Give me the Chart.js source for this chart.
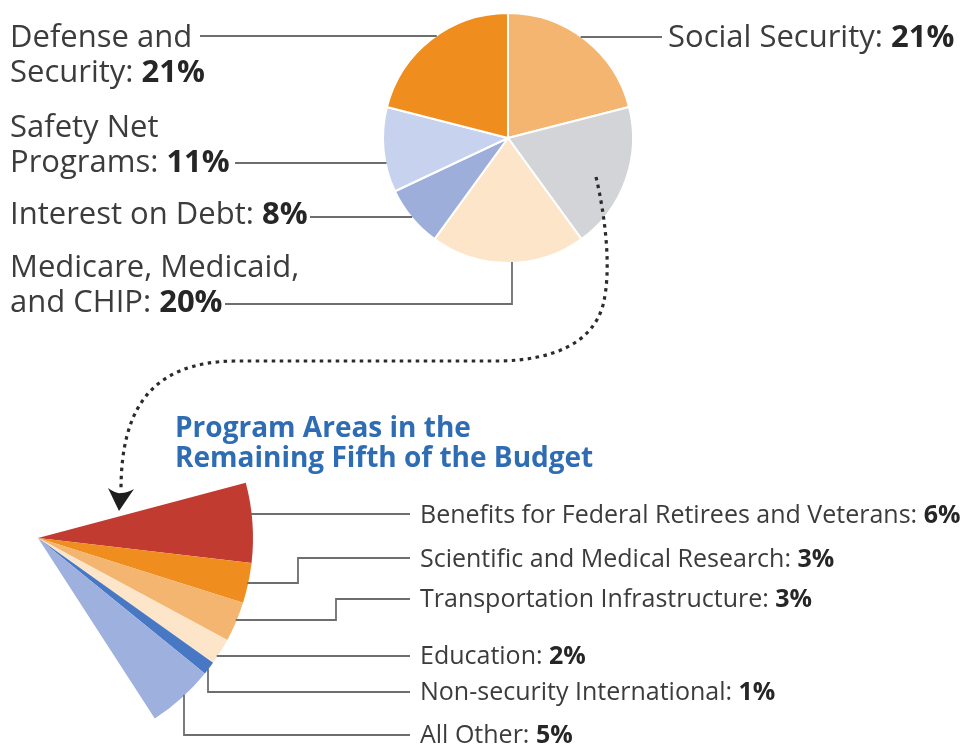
<!DOCTYPE html>
<html>
<head>
<meta charset="utf-8">
<title>Federal Budget by Program Area</title>
<script src="https://cdn.jsdelivr.net/npm/chart.js@4.4.1/dist/chart.umd.min.js"></script>
<style>
  body { margin: 0; background: #fff; }
  #wrap { position: relative; width: 969px; height: 748px; overflow: hidden; }
  canvas { position: absolute; left: 0; top: 0; }
  .lbl { position: absolute; font-family: "Open Sans", sans-serif; color: #3c3c3c; white-space: nowrap; }
  .lbl b { color: #262626; font-weight: 700; }
  .big { font-size: 31px; line-height: 35px; }
  .small { font-size: 25px; line-height: 28px; }
  .title { position: absolute; font-family: "Open Sans", sans-serif; font-weight: 700; color: #2e6db4;
           font-size: 28px; line-height: 30px; white-space: nowrap; }
</style>
</head>
<body>
<div id="wrap">
  <canvas id="budgetPie" width="969" height="748"></canvas>
  <canvas id="fifthFan" width="969" height="748"></canvas>
  <div class="title" style="left:175px; top:411px;">Program Areas in the<br>Remaining Fifth of the Budget</div>
</div>
<script>
// whole budget, clockwise from 12 o'clock
const budgetCategories = ['Social Security', 'Remaining Programs', 'Medicare, Medicaid, and CHIP',
  'Interest on Debt', 'Safety Net Programs', 'Defense and Security'];
const budgetValues = [21, 19, 20, 8, 11, 21];
const budgetLabels = ['Social Security', '', 'Medicare, Medicaid,\nand CHIP', 'Interest on Debt',
  'Safety Net\nPrograms', 'Defense and\nSecurity'];
const budgetColors = ['#f4b571', '#d2d4d7', '#fde5c9', '#9daedb', '#c7d2ee', '#ef8e1e'];

// breakdown of the remaining fifth
const fifthCategories = ['Benefits for Federal Retirees and Veterans', 'Scientific and Medical Research',
  'Transportation Infrastructure', 'Education', 'Non-security International', 'All Other'];
const fifthValues = [6, 3, 3, 2, 1, 5];
const fifthColors = ['#c23b30', '#ef8e1e', '#f4b571', '#fde5c9', '#4877c4', '#9db0de'];

// label boxes and leader paths (label end first, last leg runs to the pie edge)
const budgetLayout = [
  { left: 668, top: 18, path: [[662, 37]], to: 'h' },
  null,
  { left: 10, top: 248, path: [[225, 304], [512, 304]], to: 'v' },
  { left: 10, top: 195, path: [[310, 217]], to: 'h' },
  { left: 10, top: 108, path: [[235, 163]], to: 'h' },
  { left: 10, top: 18, path: [[200, 36]], to: 'h' }
];
const fifthLayout = [
  { top: 499, path: [[410, 514]], to: 'h' },
  { top: 543, path: [[410, 558], [298, 558], [298, 583]], to: 'h' },
  { top: 583, path: [[410, 599], [336, 599], [336, 620]], to: 'h' },
  { top: 640, path: [[410, 656]], to: 'h' },
  { top: 676, path: [[410, 692], [208, 692]], to: 'v' },
  { top: 719, path: [[410, 735], [184, 735]], to: 'v' }
];

const wrap = document.getElementById('wrap');
function addLabel(cls, left, top, text, value) {
  const d = document.createElement('div');
  d.className = 'lbl ' + cls;
  d.style.left = left + 'px';
  d.style.top = top + 'px';
  d.innerHTML = text.replace('\n', '<br>') + ': <b>' + value + '%</b>';
  wrap.appendChild(d);
}
budgetLayout.forEach((l, i) => { if (l) addLabel('big', l.left, l.top, budgetLabels[i], budgetValues[i]); });
fifthLayout.forEach((l, i) => addLabel('small', 420, l.top, fifthCategories[i], fifthValues[i]));

function leaders(layout) {
  return {
    id: 'leaders',
    afterDatasetsDraw(chart) {
      const ctx = chart.ctx;
      const arcs = chart.getDatasetMeta(0).data;
      ctx.save();
      ctx.strokeStyle = '#6e6e6e';
      ctx.lineWidth = 1.8;
      layout.forEach((l, i) => {
        if (!l) return;
        const { x, y, outerRadius: r } = arcs[i].getProps(['x', 'y', 'outerRadius'], true);
        const last = l.path[l.path.length - 1];
        let end;
        if (l.to === 'h') {
          const dx = Math.sqrt(r * r - (last[1] - y) ** 2);
          end = [last[0] < x ? x - dx + 1 : x + dx - 1, last[1]];
        } else {
          const dy = Math.sqrt(r * r - (last[0] - x) ** 2);
          end = [last[0], last[1] < y ? y - dy + 1 : y + dy - 1];
        }
        ctx.beginPath();
        ctx.moveTo(l.path[0][0], l.path[0][1]);
        l.path.slice(1).forEach(p => ctx.lineTo(p[0], p[1]));
        ctx.lineTo(end[0], end[1]);
        ctx.stroke();
      });
      ctx.restore();
    }
  };
}

// dotted arrow from the remaining slice down to the fan
const arrow = {
  id: 'arrow',
  afterDraw(chart) {
    const ctx = chart.ctx;
    ctx.save();
    ctx.strokeStyle = '#2b2b2b';
    ctx.lineWidth = 3.2;
    ctx.setLineDash([3.5, 4.5]);
    ctx.beginPath();
    ctx.moveTo(596, 177);
    ctx.bezierCurveTo(605, 215, 612, 270, 603, 305);
    ctx.bezierCurveTo(592, 345, 550, 360, 500, 361);
    ctx.lineTo(235, 361);
    ctx.bezierCurveTo(150, 362, 121, 410, 121, 490);
    ctx.stroke();
    ctx.setLineDash([]);
    ctx.fillStyle = '#1e1e1e';
    ctx.beginPath();
    ctx.moveTo(108, 488);
    ctx.quadraticCurveTo(116, 494, 121, 493);
    ctx.quadraticCurveTo(127, 493, 134, 489);
    ctx.lineTo(119, 511);
    ctx.closePath();
    ctx.fill();
    ctx.restore();
  }
};

new Chart(document.getElementById('budgetPie'), {
  type: 'pie',
  data: {
    labels: budgetCategories,
    datasets: [{
      data: budgetValues,
      backgroundColor: budgetColors,
      borderColor: '#ffffff',
      borderWidth: 2
    }]
  },
  options: {
    responsive: false,
    animation: false,
    events: [],
    radius: 125,
    layout: { padding: { left: 383, right: 336, top: 13, bottom: 485 } },
    plugins: { legend: { display: false }, tooltip: { enabled: false } }
  },
  plugins: [leaders(budgetLayout), arrow]
});

// the fifth is drawn on the same scale as the whole, so the rest of the circle stays empty
new Chart(document.getElementById('fifthFan'), {
  type: 'pie',
  data: {
    labels: fifthCategories.concat(['']),
    datasets: [{
      data: fifthValues.concat([100 - fifthValues.reduce((a, b) => a + b, 0)]),
      backgroundColor: fifthColors.concat(['rgba(0,0,0,0)']),
      borderWidth: 0
    }]
  },
  options: {
    responsive: false,
    animation: false,
    events: [],
    radius: 215,
    rotation: 75.1,
    layout: { padding: { left: 0, right: 893, top: 500, bottom: 172 } },
    plugins: { legend: { display: false }, tooltip: { enabled: false } }
  },
  plugins: [leaders(fifthLayout)]
});
</script>
</body>
</html>
